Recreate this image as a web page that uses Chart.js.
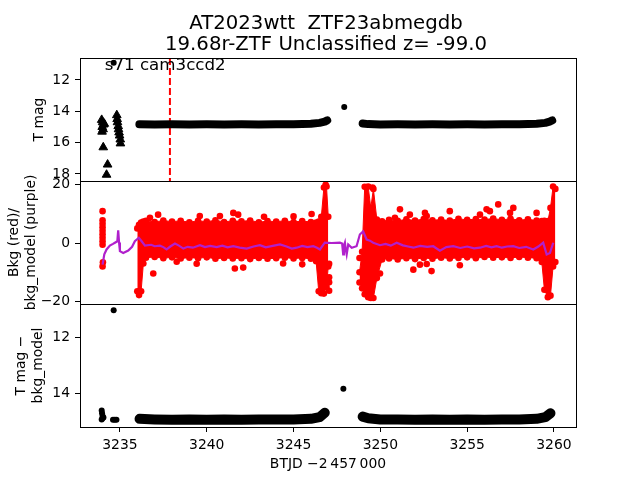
<!DOCTYPE html>
<html>
<head>
<meta charset="utf-8">
<script src="https://cdn.jsdelivr.net/npm/chart.js@4.4.1/dist/chart.umd.min.js"></script>
<style>
  html, body { margin: 0; padding: 0; background: #fff; }
  #wrap { position: relative; width: 640px; height: 480px; }
  #wrap canvas { position: absolute; left: 0; top: 0; }
</style>
</head>
<body>
<div id="wrap">
  <canvas id="top" width="640" height="480"></canvas>
  <canvas id="mid" width="640" height="480"></canvas>
  <canvas id="bot" width="640" height="480"></canvas>
</div>
<script>
// text
const titleLines = ['AT2023wtt  ZTF23abmegdb', '19.68r-ZTF Unclassified z= -99.0'];
const panelNote = 's71 cam3ccd2';

// ticks
const xTicks = [3235, 3240, 3245, 3250, 3255, 3260];
const topTicks = [12, 14, 16, 18];
const midTicks = [-20, 0, 20];
const botTicks = [12, 14];

// top panel: T mag
const topTriX = [3233.95, 3234.0, 3234.05, 3233.98, 3234.03, 3233.97, 3234.1, 3234.04, 3234.29, 3234.23,
  3234.82, 3234.84, 3234.86, 3234.9, 3234.92, 3234.95, 3234.98, 3235.02, 3235.03];
const topTriY = [14.55, 14.7, 14.85, 15.0, 15.15, 15.3, 14.8, 16.3, 17.4, 18.05,
  14.25, 14.5, 14.7, 14.95, 15.15, 15.35, 15.55, 15.8, 16.05];
const topBand1X = [3236.12, 3237, 3238, 3239, 3240, 3241, 3242, 3243, 3244, 3245, 3246, 3246.5, 3246.8, 3246.94];
const topBand1Y = [14.83, 14.84, 14.83, 14.84, 14.83, 14.84, 14.83, 14.84, 14.83, 14.83, 14.8, 14.74, 14.66, 14.58];
const topBand2X = [3248.98, 3249.3, 3250, 3251, 3252, 3253, 3254, 3255, 3256, 3257, 3258, 3259, 3259.5, 3259.75, 3259.9];
const topBand2Y = [14.78, 14.82, 14.84, 14.83, 14.84, 14.83, 14.84, 14.83, 14.84, 14.83, 14.83, 14.8, 14.74, 14.66, 14.58];
const topDotX = [3234.64, 3247.92];
const topDotY = [10.9, 13.73];
const cutX = [3237.88, 3237.88];
const cutY = [10.6, 18.45];

// middle panel: background (red) and background model (purple)
const bkgX = [3234.0, 3234.1, 3234.23, 3234.42, 3234.6, 3234.71, 3234.85, 3234.9, 3234.95, 3235.0,
  3235.19, 3235.48, 3235.7, 3235.86, 3236.09, 3236.25, 3236.44, 3236.8, 3237.0, 3237.3,
  3237.5, 3237.69, 3237.9, 3238.17, 3238.4, 3238.65, 3238.9, 3239.2, 3239.61, 3239.9,
  3240.2, 3240.57, 3240.9, 3241.2, 3241.53, 3241.9, 3242.3, 3242.7, 3243.06, 3243.4,
  3243.8, 3244.22, 3244.6, 3244.9, 3245.18, 3245.5, 3245.8, 3246.14, 3246.35, 3246.52,
  3246.8, 3247.2, 3247.67, 3247.8, 3247.86, 3247.9, 3247.96, 3248.0, 3248.06, 3248.15,
  3248.35, 3248.63, 3248.82, 3249.01, 3249.21, 3249.4, 3249.59, 3249.98, 3250.3, 3250.6,
  3250.94, 3251.3, 3251.6, 3251.9, 3252.3, 3252.7, 3253.05, 3253.43, 3253.8, 3254.2,
  3254.6, 3255.0, 3255.4, 3255.74, 3256.1, 3256.4, 3256.7, 3257.0, 3257.3, 3257.66,
  3258.0, 3258.4, 3258.81, 3259.1, 3259.38, 3259.58, 3259.77, 3259.96];
const bkgY = [-7.4, -3.9, -2.2, -0.9, -0.3, 0.1, 0.6, 4.3, 0.2, -2.8,
  -3.4, -2.6, -1.3, 0.6, 1.8, 0.6, -0.9, -0.6, -1.1, -0.9,
  -1.4, -2.2, -1.2, -0.2, -0.9, -1.9, -1.3, -1.6, -0.75, -1.4,
  -1.0, -1.4, -0.9, -1.5, -1.1, -1.6, -1.9, -1.2, -0.75, -1.5,
  -1.0, -0.5, -1.2, -1.9, -1.6, -1.0, -1.4, -1.1, -1.6, -2.2,
  0.1, 0.0, 0.1, -0.2, -3.9, -1.0, 0.1, -2.0, -3.9, -0.5,
  -1.6, -1.1, 2.9, 4.0, 1.2, 0.8, 0.1, -0.75, -0.3, -0.9,
  0.1, -0.8, -1.2, -1.6, -1.0, -1.3, -1.1, -2.6, -1.4, -1.1,
  -1.7, -1.2, -1.8, -1.6, -1.0, -1.5, -1.1, -1.6, -1.2, -1.1,
  -1.7, -1.3, -2.2, -1.2, 0.1, -3.9, -3.4, 0.1];
const bandBX = [3236.0, 3236.1, 3236.22, 3236.35, 3236.5, 3237, 3237.5, 3238, 3238.5, 3239,
  3239.5, 3240, 3240.5, 3241, 3241.5, 3242, 3242.5, 3243, 3243.5, 3244,
  3244.5, 3245, 3245.5, 3246, 3246.3, 3246.45, 3246.6, 3246.75, 3246.9, 3247.0];
const bandBTop = [5.0, 6.2, 7.0, 7.3, 7.6, 7.2, 7.7, 7.3, 7.6, 7.1,
  7.6, 7.3, 7.8, 7.2, 7.6, 7.4, 7.7, 7.1, 7.5, 7.3,
  7.6, 7.2, 7.5, 7.2, 7.0, 7.3, 9.0, 19.0, 19.3, 9.0];
const bandBBot = [-16.5, -17.8, -16.5, -7.0, -5.0, -4.8, -5.2, -4.9, -5.3, -5.0,
  -5.2, -4.9, -5.4, -5.1, -5.3, -5.2, -5.5, -5.1, -5.4, -5.2,
  -5.0, -5.3, -5.1, -5.4, -6.2, -16.5, -17.2, -17.3, -15.0, -8.0];
const bandCX = [3248.8, 3248.95, 3249.1, 3249.3, 3249.45, 3249.6, 3249.8, 3250.1, 3250.5, 3251,
  3251.5, 3252, 3252.5, 3253, 3253.5, 3254, 3254.5, 3255, 3255.5, 3256,
  3256.5, 3257, 3257.5, 3258, 3258.5, 3259, 3259.3, 3259.45, 3259.65, 3259.8,
  3259.95, 3260.08];
const bandCTop = [-10, -3, 19.2, 19.3, 12, 18.5, 8.0, 7.4, 7.9, 7.6,
  8.1, 7.7, 8.2, 7.8, 8.0, 7.7, 8.3, 7.9, 8.2, 8.0,
  8.4, 7.9, 8.3, 7.8, 8.1, 7.7, 7.5, 7.6, 7.5, 12,
  19.3, 18.5];
const bandCBot = [-13.5, -15.5, -17.5, -18.5, -18.8, -18.8, -12, -5.6, -5.3, -5.6,
  -5.2, -5.5, -5.1, -5.4, -5.0, -5.3, -5.1, -4.9, -5.2, -4.8,
  -5.0, -4.9, -5.1, -4.8, -5.0, -5.2, -6.5, -16, -18.5, -18.0,
  -8, -6.5];
const midDotX = [3234.0, 3234.0, 3234.0, 3234.0, 3234.0, 3234.0, 3234.0, 3234.0, 3234.0, 3234.02, 3234.0,
  3236.73, 3237.2, 3236.92, 3238.27, 3239.42, 3239.6, 3240.76, 3241.53, 3241.81, 3241.62, 3242.1, 3243.3, 3244.4, 3245.0, 3246.04, 3245.5,
  3247.05, 3247.05, 3247.05, 3247.05, 3246.85,
  3248.8, 3249.05, 3249.55,
  3249.98, 3250.84, 3251.13, 3251.7, 3252.57, 3252.67, 3254.0, 3255.74, 3256.12, 3256.31, 3256.79, 3257.47, 3257.66, 3259.0, 3251.9, 3252.28, 3252.67, 3252.95, 3254.58,
  3259.96];
const midDotY = [10.9, 7.8, 6.6, 5.4, 4.2, 3.0, 1.8, 0.6, -0.6, -6.6, -8.0,
  8.6, 9.7, -10.4, -6.4, -7.1, 9.2, 9.2, 10.3, 9.7, -8.7, -8.4, 9.0, -7.0, 9.1, 9.9, -7.3,
  -7.1, -11.7, -13.4, -16.3, 19.9,
  -5.1, -8.9, 19.0,
  -10.4, 8.6, 11.5, 9.7, 10.3, 9.2, 10.9, 9.7, 11.5, 10.9, 13.2, 10.3, 12.0, 10.3, -9.1, -7.4, -7.2, -9.6, -7.6,
  -7.0];

// bottom panel: T mag - bkg_model
const botBand1X = [3236.13, 3237, 3238, 3239, 3240, 3241, 3242, 3243, 3244, 3245, 3246, 3246.5, 3246.8];
const botBand1Y = [14.9, 14.92, 14.93, 14.92, 14.93, 14.92, 14.93, 14.92, 14.92, 14.92, 14.9, 14.84, 14.68];
const botBand2X = [3248.98, 3249.3, 3250, 3251, 3252, 3253, 3254, 3255, 3256, 3257, 3258, 3259, 3259.5, 3259.8];
const botBand2Y = [14.82, 14.88, 14.92, 14.92, 14.93, 14.92, 14.93, 14.92, 14.93, 14.92, 14.92, 14.9, 14.84, 14.7];
const botDotX = [3233.95, 3233.97, 3234.0, 3234.0, 3234.05, 3233.95, 3234.6, 3234.7, 3234.8, 3234.64, 3247.87];
const botDotY = [14.6, 14.7, 14.8, 14.88, 14.85, 14.92, 14.93, 14.93, 14.93, 11.03, 13.83];

const RED = '#ff0000';
const PURPLE = '#b020cc';
const X_MIN = 3232.7, X_MAX = 3261.27;

Chart.defaults.font.family = 'DejaVu Sans';
Chart.defaults.color = '#000';
Chart.defaults.animation = false;
Chart.defaults.events = [];
Chart.defaults.plugins.legend.display = false;
Chart.defaults.plugins.tooltip.enabled = false;

const pts = (xs, ys) => xs.map((x, i) => ({ x: x, y: ys[i] }));
const minus = v => String(v).replace('-', '\u2212');

// box around each panel
const frame = {
  id: 'frame',
  afterDatasetsDraw(chart) {
    const a = chart.chartArea, ctx = chart.ctx;
    ctx.save();
    ctx.strokeStyle = '#000';
    ctx.lineWidth = 1;
    ctx.strokeRect(Math.round(a.left) + 0.5, Math.round(a.top) + 0.5, Math.round(a.width), Math.round(a.height));
    ctx.restore();
  }
};

// two-line title over the axes and "s71 cam3ccd2" in the top panel
const texts = {
  id: 'texts',
  afterDatasetsDraw(chart) {
    const a = chart.chartArea, ctx = chart.ctx;
    ctx.save();
    ctx.fillStyle = '#000';
    ctx.textBaseline = 'alphabetic';
    ctx.font = '19.7px "DejaVu Sans"';
    ctx.textAlign = 'center';
    ctx.fillText(titleLines[0], 326, 28.5);
    ctx.fillText(titleLines[1], 326, 50);
    ctx.font = '16.67px "DejaVu Sans"';
    ctx.textAlign = 'left';
    ctx.fillText(panelNote, a.left + 0.05 * a.width, a.top + 0.1 * a.height);
    ctx.restore();
  }
};

function yScale(min, max, ticks, title, titlePad, reverse) {
  return {
    min: min, max: max, reverse: reverse,
    afterBuildTicks: s => { s.ticks = ticks.map(v => ({ value: v })); },
    afterFit: s => { s.width = 80; s.paddingTop = 0; s.paddingBottom = 0; },
    ticks: { font: { size: 13.9 }, padding: 5, callback: minus },
    grid: { drawOnChartArea: false, tickLength: 5, color: '#000' },
    border: { display: false },
    title: { display: true, text: title, font: { size: 13.9, lineHeight: 1.25 }, padding: { top: titlePad, bottom: 0 } }
  };
}

const hiddenX = { type: 'linear', min: X_MIN, max: X_MAX, display: false };

new Chart(document.getElementById('top'), {
  type: 'scatter',
  data: {
    datasets: [
      { type: 'line', data: pts(cutX, cutY), borderColor: RED, borderWidth: 2, borderDash: [7, 3], pointRadius: 0, order: 3 },
      { type: 'line', data: pts(topBand1X, topBand1Y), borderColor: '#000', borderWidth: 8, borderCapStyle: 'round', borderJoinStyle: 'round', pointRadius: 0, order: 2 },
      { type: 'line', data: pts(topBand2X, topBand2Y), borderColor: '#000', borderWidth: 8, borderCapStyle: 'round', borderJoinStyle: 'round', pointRadius: 0, order: 2 },
      { data: pts(topTriX, topTriY), pointStyle: 'triangle', pointRadius: 5, backgroundColor: '#000', borderColor: '#000', order: 1 },
      { data: pts(topDotX, topDotY), pointRadius: 3, borderWidth: 0, backgroundColor: '#000', order: 0 }
    ]
  },
  options: {
    responsive: false,
    devicePixelRatio: 1,
    layout: { padding: { top: 58, left: 0, right: 64, bottom: 299 } },
    scales: {
      x: hiddenX,
      y: yScale(10.6, 18.45, topTicks, 'T mag', 30.3, true)
    }
  },
  plugins: [frame, texts]
});

new Chart(document.getElementById('mid'), {
  type: 'scatter',
  data: {
    datasets: [
      { type: 'line', data: pts(bkgX, bkgY), borderColor: PURPLE, borderWidth: 2.2, pointRadius: 0, order: 0 },
      { data: pts(midDotX, midDotY), pointRadius: 3.3, borderWidth: 0, backgroundColor: RED, order: 1 },
      { type: 'line', data: pts(bandBX, bandBTop), fill: '+1', backgroundColor: RED, borderColor: RED, borderWidth: 1, pointRadius: 3.3, pointBorderWidth: 0, pointBackgroundColor: RED, order: 2 },
      { type: 'line', data: pts(bandBX, bandBBot), borderColor: RED, borderWidth: 1, pointRadius: 3.3, pointBorderWidth: 0, pointBackgroundColor: RED, order: 2 },
      { type: 'line', data: pts(bandCX, bandCTop), fill: '+1', backgroundColor: RED, borderColor: RED, borderWidth: 1, pointRadius: 3.3, pointBorderWidth: 0, pointBackgroundColor: RED, order: 2 },
      { type: 'line', data: pts(bandCX, bandCBot), borderColor: RED, borderWidth: 1, pointRadius: 3.3, pointBorderWidth: 0, pointBackgroundColor: RED, order: 2 }
    ]
  },
  options: {
    responsive: false,
    devicePixelRatio: 1,
    layout: { padding: { top: 181, left: 0, right: 64, bottom: 176 } },
    scales: {
      x: hiddenX,
      y: yScale(-20.85, 21.2, midTicks, ['Bkg (red)/', 'bkg_model (purple)'], 5.3, false)
    }
  },
  plugins: [frame]
});

new Chart(document.getElementById('bot'), {
  type: 'scatter',
  data: {
    datasets: [
      { type: 'line', data: pts(botBand1X, botBand1Y), borderColor: '#000', borderWidth: 10, borderCapStyle: 'round', borderJoinStyle: 'round', pointRadius: 0 },
      { type: 'line', data: pts(botBand2X, botBand2Y), borderColor: '#000', borderWidth: 10, borderCapStyle: 'round', borderJoinStyle: 'round', pointRadius: 0 },
      { data: pts(botDotX, botDotY), pointRadius: 3, borderWidth: 0, backgroundColor: '#000' }
    ]
  },
  options: {
    responsive: false,
    devicePixelRatio: 1,
    layout: { padding: { top: 304, left: 0, right: 64, bottom: 0 } },
    scales: {
      x: {
        type: 'linear', min: X_MIN, max: X_MAX,
        afterBuildTicks: s => { s.ticks = xTicks.map(v => ({ value: v })); },
        afterFit: s => { s.height = 53; s.paddingLeft = 0; s.paddingRight = 0; },
        ticks: { font: { size: 13.9 }, padding: 5, maxRotation: 0, autoSkip: false, callback: v => String(v) },
        grid: { drawOnChartArea: false, tickLength: 5, color: '#000' },
        border: { display: false },
        title: { display: true, text: 'BTJD \u22122\u2009457\u2009000', font: { size: 13.9 }, padding: { top: 0, bottom: 7.3 } }
      },
      y: yScale(10.81, 15.19, botTicks, ['T mag \u2212', 'bkg_model'], 12.3, true)
    }
  },
  plugins: [frame]
});
</script>
</body>
</html>
